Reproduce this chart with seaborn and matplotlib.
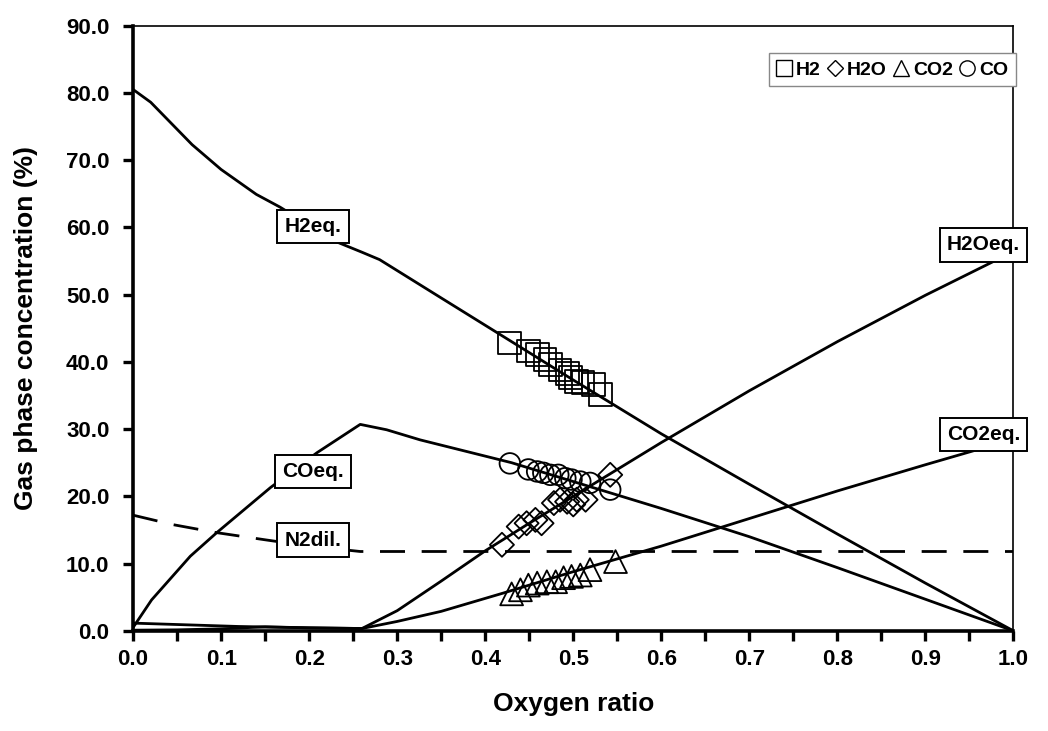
import numpy as np
import pandas as pd
import matplotlib
matplotlib.use("Agg")
import matplotlib.pyplot as plt
from matplotlib.lines import Line2D
import seaborn as sns

# equilibrium curves
h2_x = [0, 0.02, 0.067, 0.1, 0.14, 0.167, 0.23, 0.26, 0.28, 0.35, 0.43, 0.5, 0.6, 0.7, 0.8, 0.9, 1.0]
h2_y = [80.5, 78.6, 72.3, 68.6, 64.9, 63.0, 57.9, 56.3, 55.2, 49.5, 43.0, 37.3, 29.3, 21.8, 14.4, 7.1, 0.0]

co_x = [0, 0.021, 0.065, 0.095, 0.156, 0.209, 0.258, 0.288, 0.326, 0.43, 0.5, 0.6, 0.7, 0.8, 0.9, 1.0]
co_y = [0.5, 4.6, 11.1, 14.6, 21.3, 26.5, 30.7, 29.9, 28.4, 25.0, 22.2, 18.2, 14.0, 9.4, 4.7, 0.0]

h2o_x = [0, 0.06, 0.12, 0.2, 0.26, 0.3, 0.35, 0.4, 0.45, 0.5, 0.6, 0.7, 0.8, 0.9, 1.0]
h2o_y = [1.15, 0.9, 0.65, 0.45, 0.35, 3.0, 7.4, 11.9, 16.0, 20.0, 28.0, 35.7, 43.0, 49.9, 56.4]

co2_x = [0, 0.05, 0.1, 0.15, 0.2, 0.26, 0.3, 0.35, 0.42, 0.5, 0.6, 0.7, 0.8, 0.9, 1.0]
co2_y = [0.1, 0.15, 0.3, 0.6, 0.45, 0.35, 1.4, 2.9, 5.6, 8.8, 12.6, 16.7, 20.8, 24.7, 28.5]

n2_x = [0, 0.045, 0.095, 0.152, 0.2, 0.258, 1.0]
n2_y = [17.2, 15.8, 14.6, 13.5, 12.6, 11.8, 11.8]

# experimental points
sq_x = [0.428, 0.449, 0.459, 0.468, 0.474, 0.485, 0.493, 0.497, 0.504, 0.511, 0.523, 0.531]
sq_y = [42.8, 41.6, 41.1, 40.3, 39.6, 38.8, 38.3, 37.7, 37.1, 36.9, 36.6, 35.1]

ci_x = [0.428, 0.449, 0.459, 0.466, 0.474, 0.483, 0.491, 0.498, 0.508, 0.519, 0.542]
ci_y = [24.9, 24.0, 23.7, 23.5, 23.2, 23.2, 22.7, 22.5, 22.2, 22.0, 21.0]

di_x = [0.419, 0.438, 0.447, 0.457, 0.464, 0.478, 0.485, 0.493, 0.500, 0.504, 0.514, 0.542]
di_y = [12.8, 15.5, 16.0, 16.5, 16.0, 19.0, 19.5, 19.2, 18.8, 19.5, 19.5, 23.2]

tr_x = [0.430, 0.440, 0.449, 0.459, 0.470, 0.480, 0.489, 0.498, 0.508, 0.519, 0.548]
tr_y = [5.5, 6.1, 6.8, 7.1, 7.3, 7.3, 7.9, 8.1, 8.3, 9.1, 10.3]

sns.set_style("white")
plt.rcParams['font.family'] = ['Liberation Sans', 'DejaVu Sans']
plt.rcParams['font.weight'] = 'bold'
plt.rcParams['text.color'] = 'black'
plt.rcParams['axes.labelcolor'] = 'black'
plt.rcParams['xtick.color'] = 'black'
plt.rcParams['ytick.color'] = 'black'

fig = plt.figure(figsize=(10.48, 7.31), dpi=100)
ax = fig.add_axes([0.127, 0.137, 0.840, 0.828])

# experimental markers (hollow)
pts = [(sq_x, sq_y, 's', 270), (ci_x, ci_y, 'o', 220), (di_x, di_y, 'D', 150), (tr_x, tr_y, '^', 270)]
for px, py, mk, sz in pts:
    sns.scatterplot(x=px, y=py, marker=mk, s=sz, facecolor='none', edgecolor='black',
                    linewidth=1.3, ax=ax, zorder=3)

# equilibrium lines
for cx, cy in [(h2_x, h2_y), (co_x, co_y), (h2o_x, h2o_y), (co2_x, co2_y)]:
    sns.lineplot(x=cx, y=cy, color='black', lw=2.0, ax=ax, estimator=None, sort=False, zorder=4)
sns.lineplot(x=n2_x, y=n2_y, color='black', lw=2.0, ax=ax, estimator=None, sort=False,
             dashes=False, zorder=4)
ax.lines[-1].set_dashes((9, 6))

ax.set_xlim(0, 1.0)
ax.set_ylim(0, 90)
xt = np.arange(0, 1.001, 0.05)
ax.set_xticks(xt)
ax.set_xticklabels(['%.1f' % v if i % 2 == 0 else '' for i, v in enumerate(xt)])
yt = np.arange(0, 90.1, 10)
ax.set_yticks(yt)
ax.set_yticklabels(['%.1f' % v for v in yt])
ax.tick_params(axis='both', direction='out', length=7, width=2.4, labelsize=16, pad=6,
               bottom=True, left=True)
ax.tick_params(axis='y', pad=10)
for lab in ax.get_xticklabels() + ax.get_yticklabels():
    lab.set_fontweight('bold')

for s in ['left', 'bottom']:
    ax.spines[s].set_linewidth(2.6)
    ax.spines[s].set_color('black')
for s in ['top', 'right']:
    ax.spines[s].set_linewidth(1.2)
    ax.spines[s].set_color('black')

ax.set_xlabel('Oxygen ratio', fontsize=19, fontweight='bold', labelpad=16)
ax.set_ylabel('Gas phase concentration (%)', fontsize=19, fontweight='bold', labelpad=20)

# curve labels
box = dict(boxstyle='square,pad=0.35', facecolor='white', edgecolor='black', lw=1.4)
labels = [('H2eq.', 0.2045, 60.1), ('COeq.', 0.2045, 23.7), ('N2dil.', 0.2045, 13.5),
          ('H2Oeq.', 0.966, 57.4), ('CO2eq.', 0.966, 29.2)]
for txt, lx, ly in labels:
    ax.text(lx, ly, txt, ha='center', va='center', fontsize=15, fontweight='bold',
            bbox=box, zorder=6)

handles = [Line2D([], [], marker=m, ls='none', mfc='none', mec='black', ms=ms, mew=1.0)
           for m, ms in [('s', 11), ('D', 8), ('^', 11), ('o', 11)]]
leg = ax.legend(handles, ['H2', 'H2O', 'CO2', 'CO'], ncol=4, loc='center',
                bbox_to_anchor=(0.8625, 0.927), fancybox=False, framealpha=1,
                edgecolor='#888888', handletextpad=0.2, columnspacing=0.35,
                handlelength=0.8, borderpad=0.4,
                prop={'size': 14, 'weight': 'bold'})
leg.get_frame().set_linewidth(1.0)

fig.savefig('out.png', dpi=100)
